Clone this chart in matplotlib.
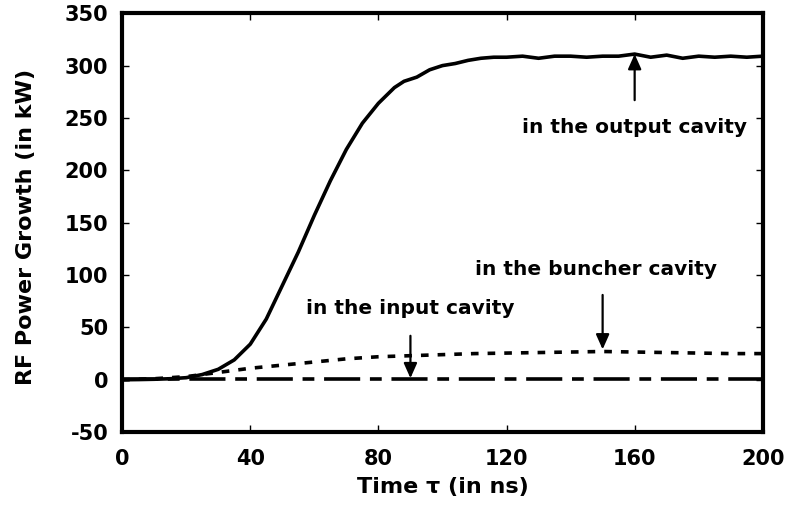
import matplotlib
matplotlib.use("Agg")
import matplotlib.pyplot as plt

plt.rcParams['font.family'] = ['DejaVu Sans']
plt.rcParams['font.weight'] = 'bold'
plt.rcParams['lines.scale_dashes'] = False
plt.rcParams['axes.unicode_minus'] = False

# Output cavity
t_out = [0, 5, 10, 15, 20, 25, 30, 35, 40, 45, 50, 55, 60, 65, 70, 75, 80, 85, 88,
         92, 96, 100, 104, 108, 112, 116, 120, 125, 130, 135, 140, 145, 150, 155,
         160, 165, 170, 175, 180, 185, 190, 195, 200]
p_out = [0, 0.2, 0.5, 1, 2, 5, 10, 19, 34, 58, 90, 122, 157, 190, 220, 245, 264,
         279, 285, 289, 296, 300, 302, 305, 307, 308, 308, 309, 307, 309, 309, 308,
         309, 309, 311, 308, 310, 307, 309, 308, 309, 308, 309]

# Buncher cavity
t_bun = [0, 10, 20, 30, 40, 50, 60, 70, 80, 90, 100, 110, 120, 130, 140, 150, 160,
         170, 180, 190, 200]
p_bun = [0, 1, 3, 7, 11, 14, 17, 20, 22, 23, 24, 25, 25.5, 26, 26.5, 27, 26.5, 26,
         25.5, 25, 25]

# Input cavity
t_in = [0, 50, 100, 150, 200]
p_in = [0.5, 0.5, 0.5, 0.5, 0.5]

xticks = [0, 40, 80, 120, 160, 200]
yticks = [-50, 0, 50, 100, 150, 200, 250, 300, 350]

fig = plt.figure(figsize=(7.88, 5.09), dpi=100)
ax = fig.add_axes([0.155, 0.151, 0.813, 0.823])

ax.plot(t_out, p_out, color='black', lw=2.6)
ax.plot(t_bun, p_bun, color='black', lw=2.6, linestyle=(0, (5.5, 6.5)))
ax.plot(t_in, p_in, color='black', lw=2.6, linestyle=(0, (26, 7, 8.5, 7)))

ax.set_xlim(0, 200)
ax.set_ylim(-50, 350)
ax.set_xticks(xticks)
ax.set_yticks(yticks)
ax.tick_params(axis='both', direction='in', length=5, width=1, top=True, right=True,
               labelsize=15)
ax.tick_params(axis='y', pad=10)
ax.tick_params(axis='x', pad=12)
for lab in ax.get_xticklabels() + ax.get_yticklabels():
    lab.set_fontweight('bold')
for sp in ax.spines.values():
    sp.set_linewidth(3)

ax.set_xlabel('Time τ (in ns)', fontsize=16, fontweight='bold', labelpad=6)
ax.set_ylabel('RF Power Growth (in kW)', fontsize=16, fontweight='bold', labelpad=20)
ax.yaxis.set_label_coords(-0.135, 0.49)

arrowprops = dict(arrowstyle='-|>,head_length=0.9,head_width=0.4', color='black',
                  lw=1.6, shrinkA=0, shrinkB=0)
ax.annotate('', xy=(160, 311), xytext=(160, 267), arrowprops=arrowprops)
ax.annotate('', xy=(150, 29), xytext=(150, 81), arrowprops=arrowprops)
ax.annotate('', xy=(90, 1.5), xytext=(90, 42), arrowprops=arrowprops)

ax.text(160, 241, 'in the output cavity', ha='center', va='center', fontsize=14.5,
        fontweight='bold')
ax.text(148, 105, 'in the buncher cavity', ha='center', va='center', fontsize=14.5,
        fontweight='bold')
ax.text(90, 68, 'in the input cavity', ha='center', va='center', fontsize=14.5,
        fontweight='bold')

fig.savefig('out.png', dpi=100)
